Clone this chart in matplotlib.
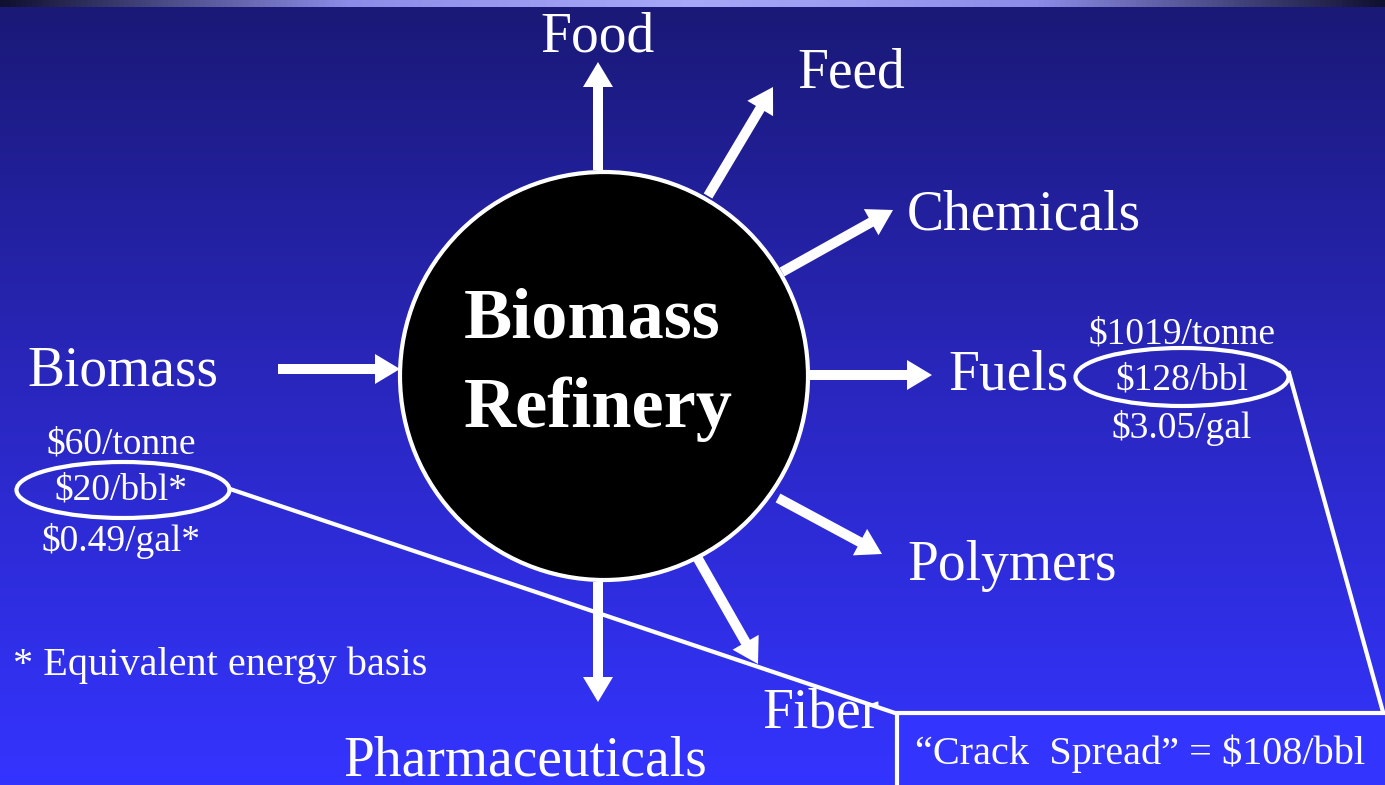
import numpy as np
import matplotlib.pyplot as plt
from matplotlib.patches import Circle, Ellipse, Rectangle, FancyArrow
from matplotlib.colors import LinearSegmentedColormap

plt.rcParams['font.family'] = ['Liberation Serif', 'DejaVu Serif']

# diagram content
centre_title = "Biomass\nRefinery"
input_label = "Biomass"
products = ["Food", "Feed", "Chemicals", "Fuels", "Polymers", "Fiber", "Pharmaceuticals"]
biomass_prices = ["$60/tonne", "$20/bbl*", "$0.49/gal*"]
fuel_prices = ["$1019/tonne", "$128/bbl", "$3.05/gal"]
footnote = "* Equivalent energy basis"
crack_spread = "\u201cCrack  Spread\u201d = $108/bbl"

# layout (pixel coordinates, y downwards)
arrow_from = [(598, 170), (708, 196), (782, 272), (810, 375), (778, 498), (697, 557), (598, 582)]
arrow_to = [(598, 62), (773, 87), (893, 210), (932, 375), (882, 554), (758, 664), (598, 702)]
label_pos = [(598, 52, 'center'), (797, 88, 'left'), (907, 230, 'left'), (948, 390, 'left'),
             (907, 580, 'left'), (762, 727, 'left'), (343, 775, 'left')]

W, H = 1385, 785
fig = plt.figure(figsize=(W / 100, H / 100), dpi=100)
ax = fig.add_axes([0, 0, 1, 1])
ax.set_xlim(0, W)
ax.set_ylim(H, 0)
ax.axis('off')

# background gradient
bg = LinearSegmentedColormap.from_list('bg', ['#1a1977', '#2a27c0', '#3434ff'])
grad = np.linspace(0, 1, 256).reshape(-1, 1)
ax.imshow(grad, cmap=bg, extent=[0, W, H, 7], aspect='auto', zorder=0)
strip = LinearSegmentedColormap.from_list('strip', ['#101030', '#8c8ce8', '#a8a8f8', '#8c8ce8', '#101030'])
ax.imshow(np.linspace(0, 1, 256).reshape(1, -1), cmap=strip, extent=[0, W, 7, 0], aspect='auto', zorder=0)

# central circle
ax.add_patch(Circle((604, 376), 204, facecolor='black', edgecolor='white', lw=3, zorder=3))
ax.text(464, 338, centre_title.split("\n")[0], color='white', fontsize=52, fontweight='bold',
        ha='left', va='baseline', zorder=4)
ax.text(464, 427, centre_title.split("\n")[1], color='white', fontsize=52, fontweight='bold',
        ha='left', va='baseline', zorder=4)

def arrow(p0, p1):
    ax.add_patch(FancyArrow(p0[0], p0[1], p1[0] - p0[0], p1[1] - p0[1], width=10,
                            head_width=30, head_length=25, length_includes_head=True,
                            color='white', lw=0, zorder=2))

arrow((278, 369), (400, 369))
ax.text(27, 385, input_label, color='white', fontsize=40, ha='left', va='baseline')

for name, p0, p1, (tx, ty, ha) in zip(products, arrow_from, arrow_to, label_pos):
    arrow(p0, p1)
    ax.text(tx, ty, name, color='white', fontsize=40, ha=ha, va='baseline', zorder=5)

# price annotations
for txt, yb in zip(biomass_prices, [453, 500, 551]):
    ax.text(121, yb, txt, color='white', fontsize=27, ha='center', va='baseline', zorder=5)
for txt, yb in zip(fuel_prices, [343, 390, 438]):
    ax.text(1182, yb, txt, color='white', fontsize=27, ha='center', va='baseline', zorder=5)

ax.add_patch(Ellipse((123, 490), 213, 56, fill=False, edgecolor='white', lw=3, zorder=5))
ax.add_patch(Ellipse((1182, 377), 213, 58, fill=False, edgecolor='white', lw=3, zorder=5))

ax.text(13, 675, footnote, color='white', fontsize=29, ha='left', va='baseline')

# callout lines and crack spread box
ax.plot([230, 895], [489, 713], color='white', lw=3, zorder=1.5)
ax.plot([1289, 1383], [373, 712], color='white', lw=3, zorder=1.5)
ax.add_patch(Rectangle((897, 713), 520, 100, facecolor='#3434ff', edgecolor='white', lw=3, zorder=6))
ax.text(915, 764, crack_spread, color='white', fontsize=29, ha='left', va='baseline', zorder=7)

fig.savefig('out.png', dpi=100)
